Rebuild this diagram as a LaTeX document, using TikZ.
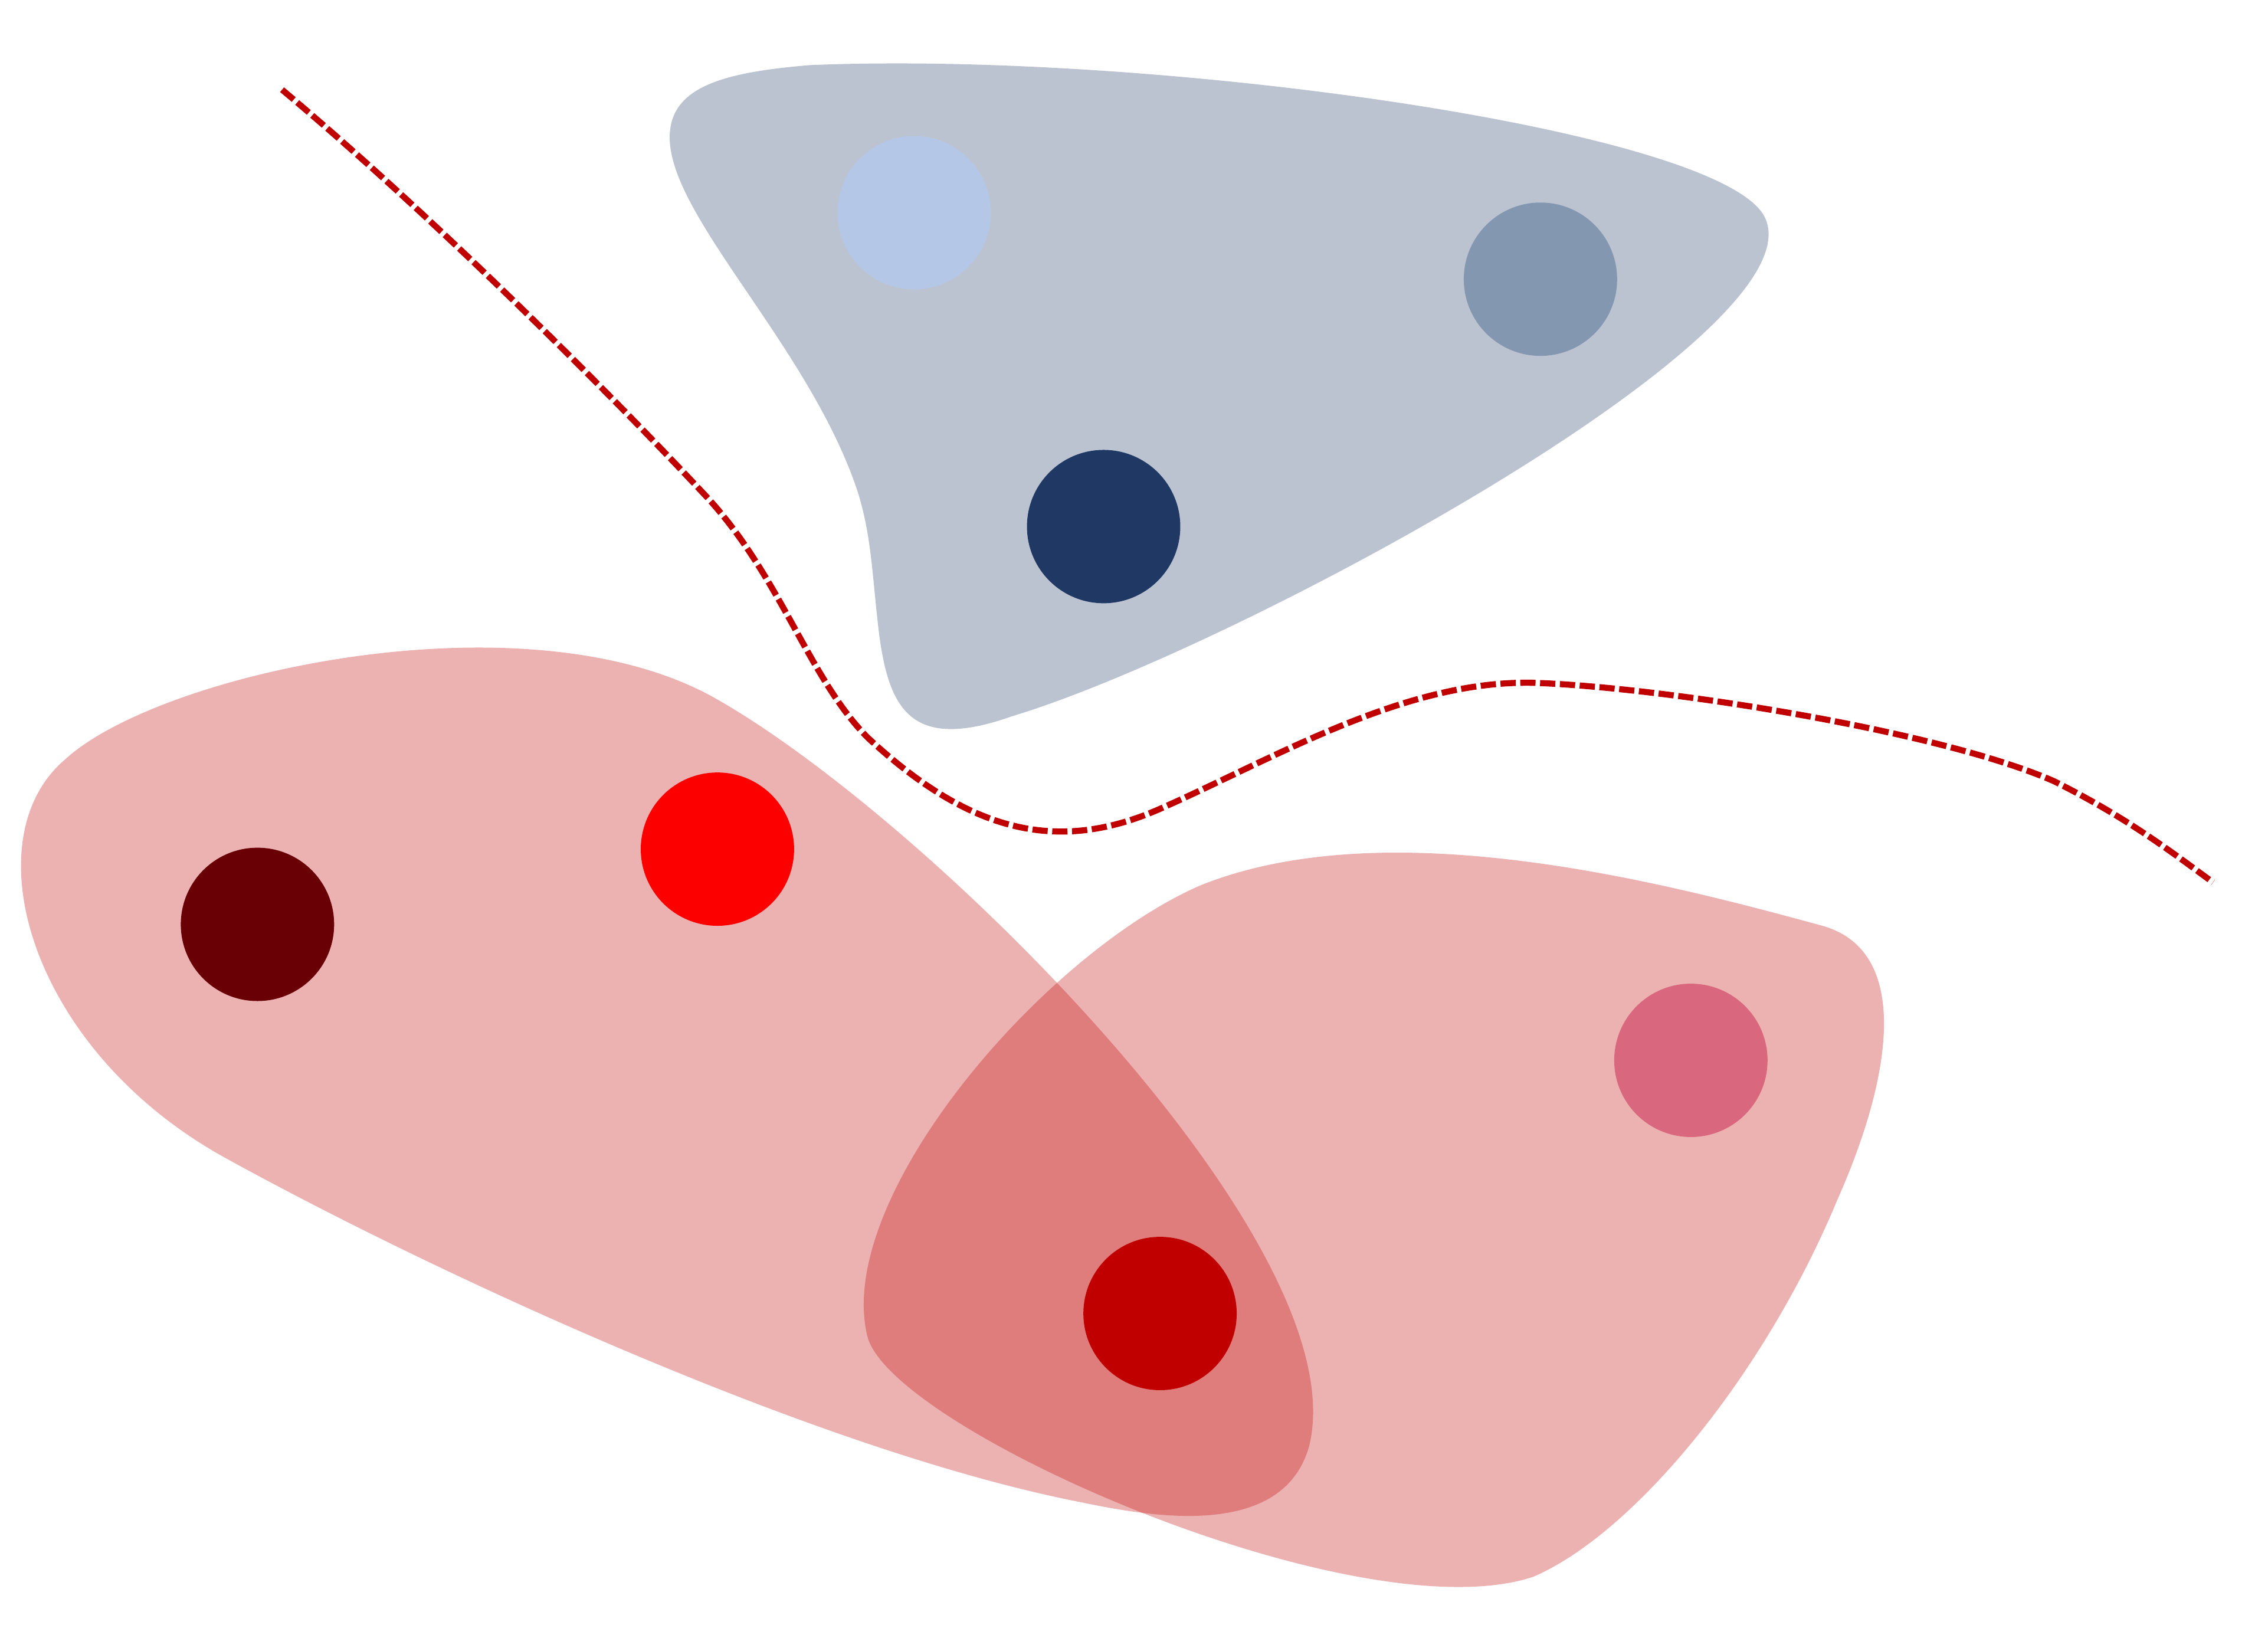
\documentclass[tikz,border=0pt]{standalone}
\begin{document}
\begin{tikzpicture}[x=0.1mm,y=-0.1mm,
  blob/.style={fill=#1,fill opacity=0.3,draw=none},
  dot/.style={circle,fill=#1,draw=none,inner sep=0pt,minimum size=10.6mm},
  sep/.style={draw=cred,line width=1.2pt,dash pattern=on 3pt off 0.9pt}]
\definecolor{cred}{HTML}{C00000}
\definecolor{cnavy}{HTML}{203864}
\definecolor{cdark}{HTML}{680006}
\definecolor{cbright}{HTML}{FC0000}
\definecolor{cpink}{HTML}{D9677E}
\definecolor{clight}{HTML}{B4C7E7}
\definecolor{cmid}{HTML}{8497B0}
\useasboundingbox (0,0) rectangle (1568,1132);
% blue blob
\path[blob=cnavy] (560,45) .. controls (800,35) and (1190,90) .. (1220,150)
  .. controls (1260,230) and (850,450) .. (700,495)
  .. controls (630,520) and (615,490) .. (608,440)
  .. controls (603,400) and (603,372) .. (593,340)
  .. controls (560,240) and (463,150) .. (463,95)
  .. controls (463,60) and (500,50) .. (560,45) -- cycle;
% red blob A
\path[blob=cred] (45,525) .. controls (110,465) and (365,409) .. (495,483)
  .. controls (640,565) and (940,860) .. (905,1000)
  .. controls (885,1070) and (780,1045) .. (740,1037)
  .. controls (560,1000) and (300,880) .. (155,800)
  .. controls (20,725) and (-20,580) .. (45,525) -- cycle;
% red blob B
\path[blob=cred] (830,612) .. controls (960,560) and (1150,610) .. (1260,640)
  .. controls (1320,657) and (1310,740) .. (1270,830)
  .. controls (1220,950) and (1130,1060) .. (1060,1090)
  .. controls (940,1130) and (620,990) .. (600,925)
  .. controls (575,830) and (720,660) .. (830,612) -- cycle;
% dashed separator
\coordinate (s0) at (195,62);
\coordinate (s1) at (490,345);
\coordinate (s2) at (1530,610);
\draw[sep] (s0) .. controls (300,150) and (420,270) .. (s1)
  .. controls (540,400) and (560,470) .. (600,510)
  .. controls (670,575) and (730,590) .. (800,560)
  .. controls (880,525) and (970,470) .. (1060,472)
  .. controls (1150,475) and (1340,505) .. (1420,540)
  .. controls (1470,565) and (1500,588) .. (s2);
% dots
\node[dot=clight] (b1) at (632,147) {};
\node[dot=cmid] (b2) at (1065,193) {};
\node[dot=cnavy] (b3) at (763,364) {};
\node[dot=cdark] (r1) at (178,639) {};
\node[dot=cbright] (r2) at (496,587) {};
\node[dot=cpink] (r3) at (1169,733) {};
\node[dot=cred] (r4) at (802,908) {};
\end{tikzpicture}
\end{document}
